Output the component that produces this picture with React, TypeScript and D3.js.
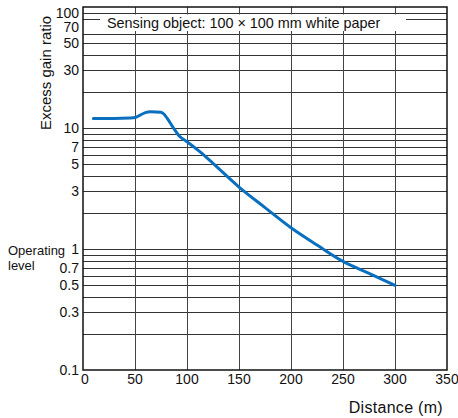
import React from "react";
import * as d3 from "d3";

const distances = [10, 30, 45, 50, 55, 60, 65, 75, 78, 81, 87, 93, 100, 112, 125, 150, 175, 200, 225, 250, 275, 300];
const gainValues = [12.0, 12.0, 12.1, 12.2, 12.8, 13.4, 13.6, 13.5, 13.0, 12.0, 10.0, 8.5, 7.7, 6.4, 5.1, 3.25, 2.2, 1.5, 1.08, 0.79, 0.63, 0.5];
const xTicks = [0, 50, 100, 150, 200, 250, 300, 350];
const yTickLabels = [100, 70, 50, 30, 10, 7, 5, 3, 1, 0.7, 0.5, 0.3, 0.1];
const yGridValues = [
  0.2, 0.3, 0.4, 0.5, 0.6, 0.7, 0.8, 0.9, 1,
  2, 3, 4, 5, 6, 7, 8, 9, 10,
  20, 30, 40, 50, 60, 80, 90,
];
const legendText = "Sensing object: 100 \u00d7 100 mm white paper";

export default function App() {
  const W = 458, H = 418;
  const left = 83, right = 447, top = 7, bottom = 370;
  const x = d3.scaleLinear().domain([0, 350]).range([left, right]);
  const y = d3.scaleLog().domain([0.1, 100]).range([bottom, top]);
  const line = d3
    .line<number>()
    .x((_, i) => x(distances[i]))
    .y((d) => y(d))
    .curve(d3.curveMonotoneX);
  const font = "'Liberation Sans', Arial, Helvetica, sans-serif";
  const labelY = (v: number) => (v === 100 ? y(v) + 5.7 : v === 70 ? y(v) + 1.5 : y(v));
  return (
    <svg
      width={W}
      height={H}
      style={{ position: "absolute", left: 0, top: 0, display: "block" }}
      fontFamily={font}
    >
      <rect x={0} y={0} width={W} height={H} fill="#fff" />
      {/* horizontal grid */}
      {yGridValues.map((v) => (
        <line
          key={"h" + v}
          x1={left}
          x2={right}
          y1={Math.round(y(v)) + 0.5}
          y2={Math.round(y(v)) + 0.5}
          stroke="#333"
          strokeWidth={1}
        />
      ))}
      {/* vertical grid */}
      {xTicks.slice(1, -1).map((v) => (
        <line
          key={"v" + v}
          x1={Math.round(x(v)) + 0.5}
          x2={Math.round(x(v)) + 0.5}
          y1={top}
          y2={bottom}
          stroke="#444"
          strokeWidth={1}
        />
      ))}
      {/* legend box */}
      <rect x={100} y={14.5} width={306} height={16.5} fill="#fff" />
      <text x={107} y={22.5} fontSize={14.4} dominantBaseline="central" fill="#111">
        {legendText}
      </text>
      {/* frame */}
      <rect
        x={left}
        y={top}
        width={right - left}
        height={bottom - top}
        fill="none"
        stroke="#111"
        strokeWidth={1.5}
      />
      {/* curve */}
      <path
        d={line(gainValues) || ""}
        fill="none"
        stroke="#0a6fbf"
        strokeWidth={3}
        strokeLinejoin="round"
        strokeLinecap="round"
      />
      {/* y tick labels */}
      {yTickLabels.map((v) => (
        <text
          key={"yl" + v}
          x={79}
          y={labelY(v)}
          fontSize={14}
          textAnchor="end"
          dominantBaseline="central"
          fill="#111"
        >
          {String(v)}
        </text>
      ))}
      {/* x tick labels */}
      {xTicks.map((v) => (
        <text
          key={"xl" + v}
          x={v === 0 ? x(v) + 2 : x(v)}
          y={379}
          fontSize={14}
          textAnchor="middle"
          dominantBaseline="central"
          fill="#111"
        >
          {String(v)}
        </text>
      ))}
      <text
        x={443}
        y={407}
        fontSize={16}
        letterSpacing={0.3}
        textAnchor="end"
        dominantBaseline="central"
        fill="#111"
      >
        Distance (m)
      </text>
      <text
        transform={`translate(45, 73) rotate(-90)`}
        fontSize={15}
        textAnchor="middle"
        dominantBaseline="central"
        fill="#111"
      >
        Excess gain ratio
      </text>
      <text x={8} y={250.7} fontSize={13} dominantBaseline="central" fill="#111">
        Operating
      </text>
      <text x={8} y={265} fontSize={13} dominantBaseline="central" fill="#111">
        level
      </text>
    </svg>
  );
}
